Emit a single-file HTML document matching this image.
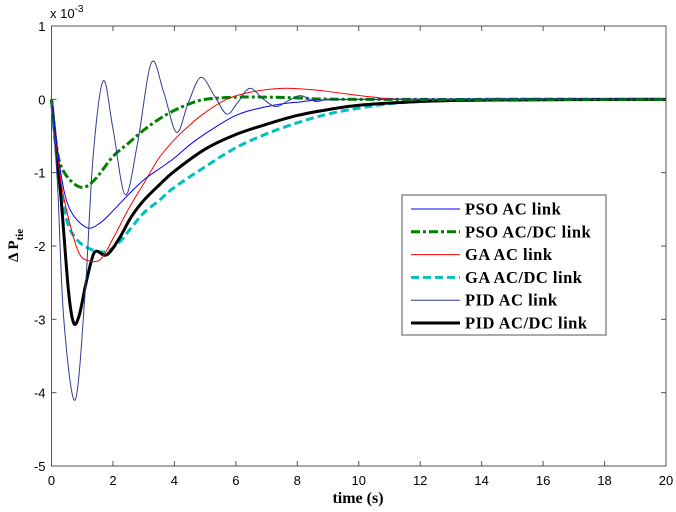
<!DOCTYPE html>
<html><head><meta charset="utf-8"><style>
body{margin:0;background:#fff;}
svg{display:block;}
.tk{font-family:"Liberation Sans",sans-serif;font-size:13px;fill:#000;}
.lg{font-family:"Liberation Serif",serif;font-size:16.5px;font-weight:bold;fill:#000;letter-spacing:0.5px;}
</style></head><body>
<svg id="chart" width="676" height="512" viewBox="0 0 676 512">
<rect x="0" y="0" width="676" height="512" fill="#fff"/>
<g id="grid"></g>
<g id="series"></g>
<g id="axes"></g>
<g id="legend"></g>
</svg>
<script>
const xTicks=[0,2,4,6,8,10,12,14,16,18,20];
const yTicks=[1,0,-1,-2,-3,-4,-5];
const psoAcT=[0,0.3,0.6,1.15,1.6,2,2.5,3,3.5,4,4.5,5,6,7,8,10,20];
const psoAcV=[0,-1.0,-1.5,-1.75,-1.68,-1.52,-1.3,-1.1,-0.95,-0.8,-0.62,-0.47,-0.22,-0.1,-0.04,0,0];
const psoDcT=[0,0.15,0.3,0.6,1.0,1.4,2,2.5,3,3.5,4,4.5,5,6,7,8,10,20];
const psoDcV=[0,-0.6,-0.9,-1.1,-1.2,-1.1,-0.78,-0.6,-0.42,-0.27,-0.15,-0.06,0,0.03,0.03,0.02,0,0];
const gaAcT=[0,0.3,0.6,0.9,1.2,1.6,2,2.5,3,3.5,4,4.5,5,5.7,6.5,7.5,8.5,9.5,10.5,12,20];
const gaAcV=[0,-1.1,-1.7,-2.1,-2.2,-2.18,-1.9,-1.5,-1.15,-0.8,-0.55,-0.35,-0.18,0,0.1,0.15,0.13,0.08,0.03,0,0];
const gaDcT=[0,0.2,0.5,0.8,1.2,1.75,2.2,2.6,3,3.5,4,5,6,7,8,9,10,11,12,14,20];
const gaDcV=[0,-0.9,-1.65,-1.9,-2.03,-2.08,-1.95,-1.75,-1.55,-1.38,-1.2,-0.92,-0.66,-0.47,-0.32,-0.2,-0.12,-0.06,-0.03,0,0];
const pidAcT=[0,0.2,0.4,0.77,1.1,1.35,1.68,2.0,2.4,2.8,3.25,3.65,4.07,4.45,4.86,5.3,5.7,6.05,6.45,6.9,7.3,7.7,8.1,8.6,9,10,20];
const pidAcV=[0,-1.2,-3.0,-4.1,-2.6,-0.8,0.25,-0.4,-1.3,-0.6,0.5,0.1,-0.45,-0.05,0.3,0.05,-0.2,-0.05,0.15,0,-0.1,-0.02,0.05,-0.03,0,0,0];
const pidDcT=[0,0.3,0.55,0.72,0.9,1.1,1.3,1.45,1.8,2.2,2.6,3,3.5,4,5,6,7,8,9,10,12,14,20];
const pidDcV=[0,-1.3,-2.6,-3.05,-2.95,-2.55,-2.2,-2.07,-2.12,-1.9,-1.6,-1.38,-1.17,-0.98,-0.68,-0.48,-0.34,-0.22,-0.14,-0.08,-0.03,-0.01,0];
const legendLabels=["PSO AC link","PSO AC/DC link","GA AC link","GA AC/DC link","PID AC link","PID AC/DC link"];

const L=51.5,R=666,T=26,B=466;
const xS=t=>L+(t-0)/(20-0)*(R-L);
const yS=v=>T+(1-v)/(1-(-5))*(B-T);
const NS="http://www.w3.org/2000/svg";
function mk(tag,attrs,parent){const e=document.createElementNS(NS,tag);for(const k in attrs)e.setAttribute(k,attrs[k]);parent.appendChild(e);return e;}
function pathD(ts,vs){
  const p=ts.map((t,i)=>[xS(t),yS(vs[i])]);
  let d="M"+p[0][0].toFixed(2)+","+p[0][1].toFixed(2);
  for(let i=0;i<p.length-1;i++){
    const p0=p[Math.max(i-1,0)],p1=p[i],p2=p[i+1],p3=p[Math.min(i+2,p.length-1)];
    const c1=[p1[0]+(p2[0]-p0[0])/6,p1[1]+(p2[1]-p0[1])/6];
    const c2=[p2[0]-(p3[0]-p1[0])/6,p2[1]-(p3[1]-p1[1])/6];
    d+=" C"+c1[0].toFixed(2)+","+c1[1].toFixed(2)+" "+c2[0].toFixed(2)+","+c2[1].toFixed(2)+" "+p2[0].toFixed(2)+","+p2[1].toFixed(2);
  }
  return d;
}
const styles=[
 {c:"#0000ff",w:1,da:""},
 {c:"#008000",w:3,da:"9,3,3,3"},
 {c:"#ff0000",w:1,da:""},
 {c:"#00c0c0",w:3,da:"8,4"},
 {c:"#2d3f8f",w:1,da:""},
 {c:"#000000",w:3,da:""}
];
const dataT=[psoAcT,psoDcT,gaAcT,gaDcT,pidAcT,pidDcT];
const dataV=[psoAcV,psoDcV,gaAcV,gaDcV,pidAcV,pidDcV];
const names=["pso-ac-line","pso-acdc-line","ga-ac-line","ga-acdc-line","pid-ac-line","pid-acdc-line"];
const sg=document.getElementById("series");
const order=[3,5,1,2,0,4];
order.forEach(i=>{
  const el=mk("path",{d:pathD(dataT[i],dataV[i]),fill:"none",stroke:styles[i].c,"stroke-width":styles[i].w,"stroke-dasharray":styles[i].da,"stroke-linejoin":"round"},sg);
  
  
});
const ax=document.getElementById("axes");
const fr=mk("rect",{x:L,y:T,width:R-L,height:B-T,fill:"none",stroke:"#555","stroke-width":1},ax);


xTicks.forEach(t=>{
  const x=xS(t);
  mk("line",{x1:x,y1:B,x2:x,y2:B-5,stroke:"#555"},ax);
  mk("line",{x1:x,y1:T,x2:x,y2:T+5,stroke:"#555"},ax);
  const tx=mk("text",{x:x,y:B+19,"text-anchor":"middle",class:"tk"},ax);
  tx.textContent=t;
  
  
});
yTicks.forEach(v=>{
  const y=yS(v);
  mk("line",{x1:L,y1:y,x2:L+5,y2:y,stroke:"#555"},ax);
  mk("line",{x1:R,y1:y,x2:R-5,y2:y,stroke:"#555"},ax);
  const tx=mk("text",{x:L-6,y:y+5,"text-anchor":"end",class:"tk"},ax);
  tx.textContent=v;
  
  
});
const lg=document.getElementById("legend");
const box=mk("rect",{x:402,y:195,width:204,height:140,fill:"#fff",stroke:"#555","stroke-width":1},lg);


legendLabels.forEach((lab,i)=>{
  const y=209+i*22.8;
  const ln=mk("line",{x1:411,y1:y,x2:460,y2:y,stroke:styles[i].c,"stroke-width":styles[i].w,"stroke-dasharray":styles[i].da},lg);
  
  
  const tx=mk("text",{x:465,y:y+5.5,class:"lg"},lg);
  tx.textContent=lab;
  
  
});
</script>
<svg style="position:absolute;left:0;top:0" width="676" height="512">
<text x="50" y="18" font-family="Liberation Sans,sans-serif" font-size="13">x 10<tspan dy="-6" font-size="10">-3</tspan></text>
<text transform="translate(18,262) rotate(-90)" font-family="Liberation Serif,serif" font-weight="bold" font-size="15">Δ P<tspan dy="5" font-size="11">tie</tspan></text>
<text x="358" y="503" text-anchor="middle" font-family="Liberation Serif,serif" font-weight="bold" font-size="16">time  (s)</text>
</svg>
</body></html>
